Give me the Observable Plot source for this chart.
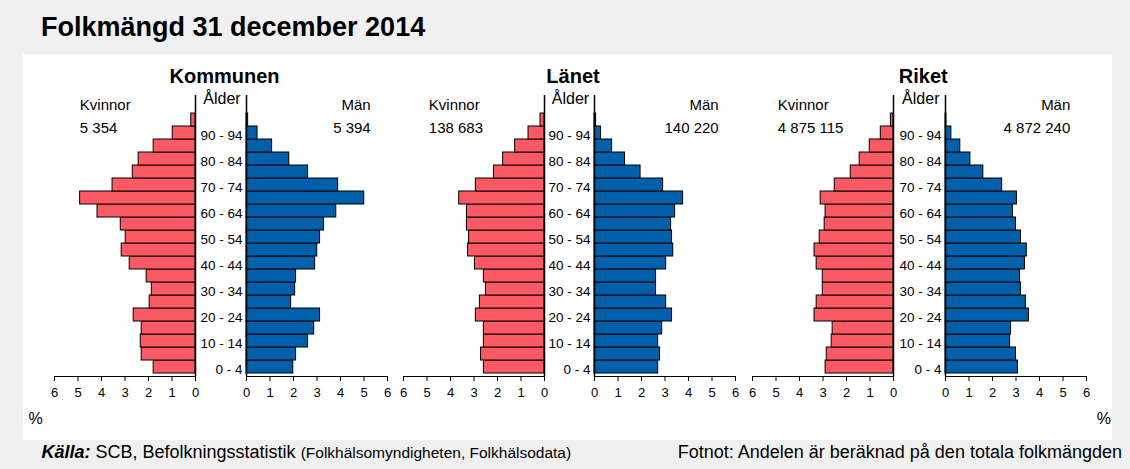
<!DOCTYPE html>
<html><head><meta charset="utf-8">
<script src="https://cdn.jsdelivr.net/npm/d3@7"></script>
<script src="https://cdn.jsdelivr.net/npm/@observablehq/plot@0.6"></script>
<style>
body{margin:0;background:#f0f0f0;width:1130px;height:469px;overflow:hidden;font-family:'Liberation Sans',Arial,sans-serif;position:relative}
.t{position:absolute;line-height:1;white-space:nowrap;color:#000}
.p{position:absolute}
</style></head><body>
<div style="position:absolute;left:23px;top:54px;width:1089px;height:386px;background:#fff"></div>
<div id="root"></div>
<script>
// ---- data ----
const ages = ["0 - 4","5 - 9","10 - 14","15 - 19","20 - 24","25 - 29","30 - 34","35 - 39","40 - 44","45 - 49","50 - 54","55 - 59","60 - 64","65 - 69","70 - 74","75 - 79","80 - 84","85 - 89","90 - 94","95+"];
const shownAges = ["0 - 4","10 - 14","20 - 24","30 - 34","40 - 44","50 - 54","60 - 64","70 - 74","80 - 84","90 - 94"];
const regions = ["Kommunen","Länet","Riket"];
const kvinnorTotal = ["5 354","138 683","4 875 115"];
const manTotal = ["5 394","140 220","4 872 240"];
const xTicks = [0,1,2,3,4,5,6];
const kommunenKvinnor = [1.78,2.29,2.33,2.29,2.63,1.95,1.86,2.08,2.80,3.14,2.97,3.18,4.17,4.91,3.53,2.67,2.42,1.78,0.97,0.18];
const kommunenMan     = [1.99,2.11,2.62,2.88,3.13,1.90,2.07,2.11,2.92,3.01,3.13,3.30,3.82,5.01,3.90,2.62,1.82,1.09,0.47,0.07];
const lanetKvinnor    = [2.58,2.70,2.58,2.58,2.92,2.75,2.49,2.58,2.96,3.25,3.21,3.30,3.30,3.63,2.92,2.15,1.76,1.25,0.68,0.17];
const lanetMan        = [2.71,2.79,2.71,2.88,3.30,3.05,2.62,2.62,3.05,3.35,3.30,3.26,3.43,3.77,2.92,1.96,1.30,0.75,0.28,0.07];
const riketKvinnor    = [2.89,2.84,2.63,2.59,3.36,3.27,3.01,3.01,3.27,3.36,3.14,2.93,2.89,3.10,2.50,1.82,1.44,1.01,0.54,0.11];
const riketMan        = [3.08,3.00,2.75,2.79,3.55,3.42,3.21,3.17,3.38,3.46,3.21,3.00,2.87,3.04,2.41,1.61,1.06,0.63,0.25,0.04];

const kvinnorSeries = [kommunenKvinnor, lanetKvinnor, riketKvinnor];
const manSeries = [kommunenMan, lanetMan, riketMan];

// ---- layout ----
const FONT = "'Liberation Sans', Arial, sans-serif";
const RED = "#fb5a64", BLUE = "#0061aa";
const left6 = [54.3, 403.3, 752.3];
const right0 = [245.7, 593.7, 945.3];
const HALF = 141;
const SVG_TOP = 85, H = 330, MT = 10, MB = 39;
const root = document.getElementById("root");

function text(str, x, baseline, size, opts = {}) {
  const d = document.createElement("div");
  d.className = "t";
  d.style.fontSize = size + "px";
  d.style.top = (baseline - 0.8465 * size) + "px";
  if (opts.bold) d.style.fontWeight = "bold";
  if (opts.anchor === "end") { d.style.right = (1130 - x) + "px"; }
  else if (opts.anchor === "middle") { d.style.left = x + "px"; d.style.transform = "translateX(-50%)"; }
  else d.style.left = x + "px";
  if (opts.html) d.innerHTML = str; else d.textContent = str;
  root.appendChild(d);
  return d;
}
function place(svg, left) {
  svg.classList.add("p");
  svg.style.left = left + "px";
  svg.style.top = SVG_TOP + "px";
  root.appendChild(svg);
}
const baseStyle = {background: "transparent", fontSize: "13px", fontFamily: FONT, color: "#000", overflow: "visible"};
const fmt = d => String(d);

text("Folkmängd 31 december 2014", 41, 37.3, 27, {bold: true});

regions.forEach((name, i) => {
  const l6 = left6[i], l0 = l6 + HALF, r0 = right0[i], r6 = r0 + HALF;
  const kv = ages.map((a, j) => ({age: a, v: kvinnorSeries[i][j]}));
  const ma = ages.map((a, j) => ({age: a, v: manSeries[i][j]}));

  const women = Plot.plot({
    width: 12 + HALF + 8, height: H, marginLeft: 12, marginRight: 8, marginTop: MT, marginBottom: MB,
    style: baseStyle,
    x: {domain: [0, 6], reverse: true, ticks: xTicks, tickFormat: fmt, tickSize: 5, tickPadding: 6, line: true, label: null},
    y: {domain: ages.slice().reverse(), padding: 0, insetTop: 14, axis: null, label: null},
    marks: [
      Plot.barX(kv, {x: "v", y: "age", fill: RED, stroke: "#000", strokeWidth: 1}),
      Plot.ruleX([0], {stroke: "#000", strokeWidth: 1.5})
    ]
  });
  place(women, l6 - 12);

  const men = Plot.plot({
    width: 50 + HALF + 12, height: H, marginLeft: 50, marginRight: 12, marginTop: MT, marginBottom: MB,
    style: baseStyle,
    x: {domain: [0, 6], ticks: xTicks, tickFormat: fmt, tickSize: 5, tickPadding: 6, line: true, label: null},
    y: {domain: ages.slice().reverse(), padding: 0, insetTop: 14, label: null},
    marks: [
      Plot.barX(ma, {x: "v", y: "age", fill: BLUE, stroke: "#000", strokeWidth: 1}),
      Plot.ruleX([0], {stroke: "#000", strokeWidth: 1.5}),
      Plot.axisY({tickSize: 0, tickPadding: 4, dy: 2.5, fontSize: 13.5, label: null,
        tickFormat: d => shownAges.includes(d) ? d : ""})
    ]
  });
  place(men, r0 - 50);

  const mid = (l0 + r0) / 2;
  text(name, mid + 4, 82.7, 20, {bold: true, anchor: "middle"});
  text("Ålder", mid + 1.5, 105, 16, {anchor: "middle"});
  text("Kvinnor", l6 + 25.5, 110, 15);
  text(kvinnorTotal[i], l6 + 25.5, 133, 15);
  text("Män", r6 - 16, 110, 15, {anchor: "end"});
  text(manTotal[i], r6 - 16, 133, 15, {anchor: "end"});
});

text("%", 28.5, 425, 16);
text("%", 1111, 425, 16, {anchor: "end"});
text('<b><i>Källa:</i></b> SCB, Befolkningsstatistik <span style="font-size:15.5px">(Folkhälsomyndigheten, Folkhälsodata)</span>', 41.5, 458.7, 18, {html: true});
text("Fotnot: Andelen är beräknad på den totala folkmängden", 1122, 458.7, 18, {anchor: "end"});
</script>
</body></html>
